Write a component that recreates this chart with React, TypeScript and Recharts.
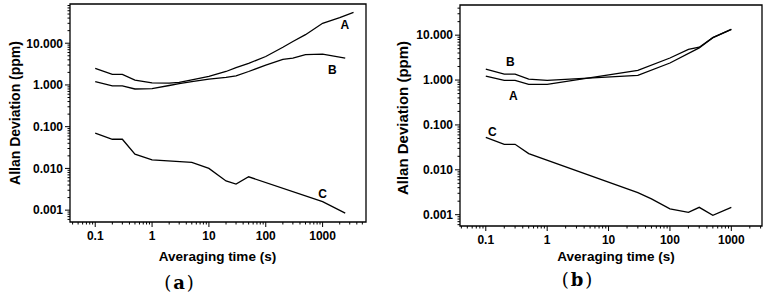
import React from 'react';
import { LineChart, Line, XAxis, YAxis, ReferenceArea, ReferenceDot } from 'recharts';

// ---- panel (a) ----
const tauA1 = [0.1, 0.2, 0.3, 0.5, 1, 2, 3, 5, 10, 20, 30, 50, 100, 200, 300, 500, 1000, 2000, 3500];
const devA1 = [2.5, 1.8, 1.8, 1.3, 1.12, 1.1, 1.15, 1.32, 1.6, 2.1, 2.6, 3.3, 4.8, 8, 11, 16, 30, 41, 55];
const tauB1 = [0.1, 0.2, 0.3, 0.5, 1, 2, 3, 5, 10, 20, 30, 50, 100, 200, 300, 500, 1000, 2500];
const devB1 = [1.2, 0.95, 0.95, 0.8, 0.82, 0.97, 1.08, 1.2, 1.38, 1.52, 1.65, 2.1, 3.0, 4.1, 4.4, 5.3, 5.5, 4.4];
const tauC1 = [0.1, 0.2, 0.3, 0.5, 1, 5, 10, 20, 30, 50, 1000, 2500];
const devC1 = [0.07, 0.05, 0.05, 0.022, 0.016, 0.014, 0.01, 0.005, 0.0042, 0.0063, 0.0016, 0.00085];

// ---- panel (b) ----
const tauA2 = [0.1, 0.2, 0.3, 0.5, 1, 30, 100, 200, 300, 500, 1000];
const devA2 = [1.23, 0.98, 0.98, 0.8, 0.8, 1.65, 3.1, 4.8, 5.4, 8.8, 13.5];
const tauB2 = [0.1, 0.2, 0.3, 0.5, 1, 30, 100, 300, 500, 1000];
const devB2 = [1.75, 1.35, 1.35, 1.05, 0.98, 1.27, 2.4, 5.2, 8.8, 13.5];
const tauC2 = [0.1, 0.2, 0.3, 0.5, 30, 50, 100, 200, 300, 500, 1000];
const devC2 = [0.053, 0.037, 0.037, 0.023, 0.0031, 0.00225, 0.00135, 0.00113, 0.00146, 0.00097, 0.00146];

const xMajor = [0.1, 1, 10, 100, 1000];
const yMajor = [0.001, 0.01, 0.1, 1, 10];

const SANS = '"Liberation Sans", Arial, sans-serif';

const pts = (t: number[], v: number[]) => t.map((x, i) => ({ t: x, v: v[i] }));

// major + minor log ticks inside a domain
const logTicks = (lo: number, hi: number) => {
  const out: number[] = [];
  for (let k = -5; k <= 5; k++) {
    for (let m = 1; m <= 9; m++) {
      const v = Number((m * Math.pow(10, k)).toPrecision(6));
      if (v >= lo && v <= hi) out.push(v);
    }
  }
  return out;
};
const isMajor = (v: number, list: number[]) => list.some((m) => Math.abs(m - v) < m * 1e-9);

const XTick = (props: any) => {
  const { x, y, payload } = props;
  const v = payload.value;
  const major = isMajor(v, xMajor);
  return (
    <g>
      <line x1={x} y1={y} x2={x} y2={y + (major ? 5 : 2.5)} stroke="#000" strokeWidth={1} />
      {major && (
        <text x={x} y={y + 18} textAnchor="middle" fontSize={12} fontWeight="bold" fontFamily={SANS} fill="#000">
          {String(v)}
        </text>
      )}
    </g>
  );
};

const YTick = (props: any) => {
  const { x, y, payload } = props;
  const v = payload.value;
  const major = isMajor(v, yMajor);
  return (
    <g>
      <line x1={x} y1={y} x2={x - (major ? 5 : 2.5)} y2={y} stroke="#000" strokeWidth={1} />
      {major && (
        <text x={x - 7} y={y + 4.3} textAnchor="end" fontSize={12} fontWeight="bold" fontFamily={SANS} fill="#000">
          {v.toFixed(3)}
        </text>
      )}
    </g>
  );
};

const letter = (s: string) => ({
  value: s,
  position: 'center' as const,
  fill: '#000',
  fontSize: 12,
  fontWeight: 'bold',
  fontFamily: SANS,
});

type PanelProps = {
  width: number;
  margin: { top: number; right: number; left: number; bottom: number };
  yWidth: number;
  xHeight: number;
  xDomain: [number, number];
  yDomain: [number, number];
  series: { t: number; v: number }[][];
  labels: { x: number; y: number; s: string }[];
};

const Panel = ({ width, margin, yWidth, xHeight, xDomain, yDomain, series, labels }: PanelProps) => (
  <LineChart width={width} height={297} margin={margin}>
    <XAxis
      dataKey="t"
      type="number"
      scale="log"
      domain={xDomain}
      allowDataOverflow
      ticks={logTicks(xDomain[0], xDomain[1])}
      interval={0}
      tick={<XTick />}
      tickLine={false}
      tickSize={0}
      tickMargin={0}
      axisLine={false}
      height={xHeight}
    />
    <YAxis
      type="number"
      scale="log"
      domain={yDomain}
      allowDataOverflow
      ticks={logTicks(yDomain[0], yDomain[1])}
      interval={0}
      tick={<YTick />}
      tickLine={false}
      tickSize={0}
      tickMargin={0}
      axisLine={false}
      width={yWidth}
    />
    <ReferenceArea
      x1={xDomain[0]}
      x2={xDomain[1]}
      y1={yDomain[0]}
      y2={yDomain[1]}
      fill="none"
      stroke="#000"
      strokeWidth={1.3}
      ifOverflow="visible"
    />
    {series.map((d, i) => (
      <Line
        key={i}
        data={d}
        dataKey="v"
        type="linear"
        stroke="#000"
        strokeWidth={1.3}
        dot={false}
        isAnimationActive={false}
      />
    ))}
    {labels.map((l) => (
      <ReferenceDot key={l.s} x={l.x} y={l.y} r={0} fill="none" stroke="none" ifOverflow="visible" label={letter(l.s)} />
    ))}
  </LineChart>
);

const title: React.CSSProperties = {
  position: 'absolute',
  width: 220,
  height: 18,
  lineHeight: '18px',
  textAlign: 'center',
  fontFamily: SANS,
  fontWeight: 'bold',
  color: '#000',
  whiteSpace: 'nowrap',
};

const caption: React.CSSProperties = {
  position: 'absolute',
  width: 60,
  height: 22,
  lineHeight: '22px',
  textAlign: 'center',
  fontFamily: '"DejaVu Serif", "Liberation Serif", serif',
  fontSize: 18,
  letterSpacing: 2,
  color: '#000',
};

export default function App() {
  return (
    <div style={{ position: 'absolute', left: 0, top: 0, width: 767, height: 297, background: '#fff', overflow: 'hidden' }}>
      <div style={{ position: 'absolute', left: 0, top: 0 }}>
        <Panel
          width={380}
          margin={{ top: 4, right: 14, left: 0, bottom: 0 }}
          yWidth={70}
          xHeight={75}
          xDomain={[0.036, 5800]}
          yDomain={[0.00052, 87]}
          series={[pts(tauA1, devA1), pts(tauB1, devB1), pts(tauC1, devC1)]}
          labels={[
            { x: 2460, y: 27.5, s: 'A' },
            { x: 1490, y: 2.3, s: 'B' },
            { x: 1000, y: 0.0025, s: 'C' },
          ]}
        />
      </div>
      <div style={{ position: 'absolute', left: 385, top: 0 }}>
        <Panel
          width={382}
          margin={{ top: 5, right: 5, left: 0, bottom: 0 }}
          yWidth={75}
          xHeight={71}
          xDomain={[0.038, 3160]}
          yDomain={[0.00056, 47]}
          series={[pts(tauA2, devA2), pts(tauB2, devB2), pts(tauC2, devC2)]}
          labels={[
            { x: 0.25, y: 2.6, s: 'B' },
            { x: 0.28, y: 0.44, s: 'A' },
            { x: 0.128, y: 0.069, s: 'C' },
          ]}
        />
      </div>

      <div style={{ ...title, fontSize: 13.5, left: 217.5 - 110, top: 257 - 9 }}>Averaging time (s)</div>
      <div style={{ ...title, fontSize: 14, left: 14.5 - 110, top: 112.5 - 9, transform: 'rotate(-90deg)' }}>
        Allan Deviation (ppm)
      </div>
      <div style={{ ...title, fontSize: 13.5, left: 616 - 110, top: 257 - 9 }}>Averaging time (s)</div>
      <div style={{ ...title, fontSize: 15, left: 403 - 110, top: 118 - 9, transform: 'rotate(-90deg)' }}>
        Allan Deviation (ppm)
      </div>

      <div style={{ ...caption, left: 180 - 30, top: 282.5 - 11 }}>
        (<b>a</b>)
      </div>
      <div style={{ ...caption, left: 578 - 30, top: 280 - 11 }}>
        (<b>b</b>)
      </div>
    </div>
  );
}
